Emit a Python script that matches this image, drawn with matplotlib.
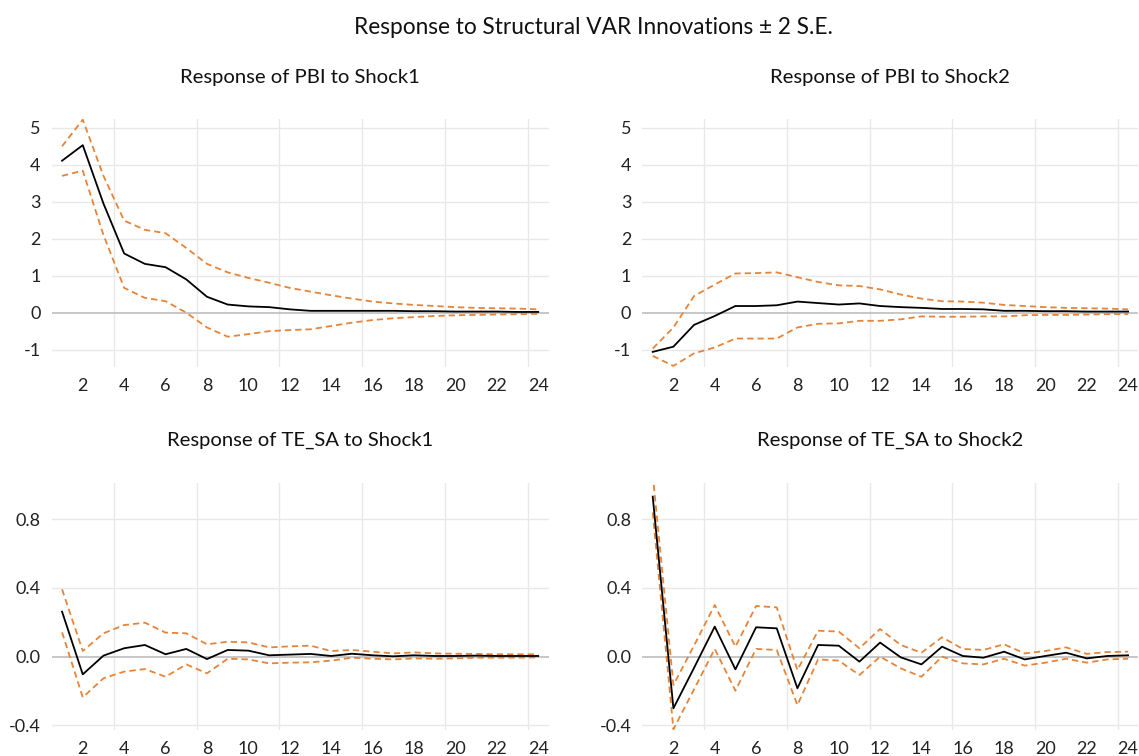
import numpy as np
import matplotlib
matplotlib.use("Agg")
from matplotlib import pyplot as plt
from matplotlib.ticker import FixedLocator, FormatStrFormatter

plt.rcParams['font.family'] = ['Lato', 'DejaVu Sans']
plt.rcParams['axes.unicode_minus'] = False

periods = np.arange(1, 25)

# Response of PBI to Shock1
pbi_s1 = [4.11, 4.53, 2.95, 1.60, 1.32, 1.23, 0.90, 0.43, 0.22, 0.17, 0.15, 0.09,
          0.05, 0.05, 0.05, 0.05, 0.05, 0.04, 0.04, 0.03, 0.03, 0.03, 0.02, 0.02]
pbi_s1_hi = [4.50, 5.22, 3.70, 2.49, 2.24, 2.15, 1.75, 1.32, 1.09, 0.94, 0.81, 0.67,
             0.57, 0.47, 0.38, 0.30, 0.25, 0.21, 0.18, 0.15, 0.13, 0.12, 0.11, 0.09]
pbi_s1_lo = [3.70, 3.84, 2.10, 0.67, 0.40, 0.31, 0.00, -0.40, -0.65, -0.58, -0.50, -0.47,
             -0.45, -0.36, -0.27, -0.20, -0.15, -0.12, -0.09, -0.07, -0.06, -0.05, -0.04, -0.03]

# Response of PBI to Shock2
pbi_s2 = [-1.06, -0.92, -0.33, -0.09, 0.18, 0.18, 0.20, 0.30, 0.26, 0.22, 0.25, 0.18,
          0.15, 0.13, 0.10, 0.10, 0.09, 0.05, 0.05, 0.04, 0.04, 0.03, 0.03, 0.03]
pbi_s2_hi = [-0.97, -0.40, 0.45, 0.76, 1.06, 1.07, 1.09, 0.96, 0.83, 0.74, 0.72, 0.63,
             0.49, 0.38, 0.31, 0.30, 0.27, 0.21, 0.18, 0.15, 0.13, 0.12, 0.11, 0.09]
pbi_s2_lo = [-1.17, -1.44, -1.10, -0.94, -0.70, -0.70, -0.70, -0.40, -0.30, -0.29, -0.22, -0.22,
             -0.18, -0.10, -0.11, -0.11, -0.10, -0.10, -0.07, -0.06, -0.06, -0.05, -0.04, -0.04]

# Response of TE_SA to Shock1
te_s1 = [0.262, -0.103, 0.006, 0.049, 0.068, 0.014, 0.045, -0.014, 0.039, 0.035, 0.008, 0.012,
         0.016, 0.004, 0.017, 0.008, 0.002, 0.008, 0.004, 0.004, 0.006, 0.004, 0.004, 0.004]
te_s1_hi = [0.392, 0.033, 0.136, 0.184, 0.198, 0.140, 0.136, 0.072, 0.087, 0.083, 0.054, 0.060,
            0.064, 0.033, 0.039, 0.029, 0.019, 0.025, 0.019, 0.017, 0.016, 0.014, 0.014, 0.014]
te_s1_lo = [0.142, -0.237, -0.126, -0.087, -0.072, -0.117, -0.045, -0.097, -0.012, -0.016, -0.039, -0.035,
            -0.033, -0.023, -0.006, -0.012, -0.016, -0.010, -0.012, -0.010, -0.006, -0.006, -0.006, -0.004]

# Response of TE_SA to Shock2
te_s2 = [0.932, -0.301, -0.065, 0.175, -0.074, 0.171, 0.165, -0.184, 0.068, 0.064, -0.029, 0.082,
         -0.004, -0.045, 0.058, 0.004, -0.006, 0.029, -0.016, 0.004, 0.023, -0.010, 0.004, 0.008]
te_s2_hi = [1.06, -0.165, 0.065, 0.301, 0.058, 0.295, 0.287, -0.078, 0.151, 0.146, 0.049, 0.161,
            0.068, 0.023, 0.113, 0.045, 0.039, 0.072, 0.019, 0.033, 0.054, 0.016, 0.027, 0.029]
te_s2_lo = [0.84, -0.423, -0.190, 0.045, -0.198, 0.045, 0.039, -0.282, -0.016, -0.023, -0.107, 0.000,
            -0.068, -0.117, 0.000, -0.039, -0.045, -0.012, -0.052, -0.035, -0.012, -0.035, -0.016, -0.012]

titles = ["Response of PBI to Shock1", "Response of PBI to Shock2",
          "Response of TE_SA to Shock1", "Response of TE_SA to Shock2"]
xtick_vals = list(range(2, 25, 2))
xgrid_vals = [3.5, 7.5, 11.5, 15.5, 19.5, 23.5]
yticks_pbi = [-1, 0, 1, 2, 3, 4, 5]
yticks_te = [-0.4, 0.0, 0.4, 0.8]

orange = '#E5843A'
grid_c = '#E8E8E8'
zero_c = '#BDBDBD'

fig = plt.figure(figsize=(11.39, 7.56), dpi=100)
boxes = [[0.0454, 0.515, 0.4362, 0.3272], [0.564, 0.515, 0.4355, 0.3272],
         [0.0454, 0.0344, 0.4362, 0.3271], [0.564, 0.0344, 0.4355, 0.3271]]
series = [(pbi_s1, pbi_s1_hi, pbi_s1_lo), (pbi_s2, pbi_s2_hi, pbi_s2_lo),
          (te_s1, te_s1_hi, te_s1_lo), (te_s2, te_s2_hi, te_s2_lo)]

for i, (box, (mid, hi, lo)) in enumerate(zip(boxes, series)):
    ax = fig.add_axes(box)
    yt = yticks_pbi if i < 2 else yticks_te
    for g in xgrid_vals:
        ax.axvline(g, color=grid_c, lw=1.0, zorder=0)
    for v in yt:
        if v != 0:
            ax.axhline(v, color=grid_c, lw=1.0, zorder=0)
    ax.axhline(0, color=zero_c, lw=1.2, zorder=1)
    ax.plot(periods, hi, color=orange, lw=1.3, ls=(0, (3.5, 2.2)), zorder=2)
    ax.plot(periods, lo, color=orange, lw=1.3, ls=(0, (3.5, 2.2)), zorder=2)
    ax.plot(periods, mid, color='black', lw=1.3, zorder=3)
    ax.set_xlim(0.5, 24.5)
    if i < 2:
        ax.set_ylim(-1.46, 5.23)
    else:
        ax.set_ylim(-0.427, 1.013)
        ax.yaxis.set_major_formatter(FormatStrFormatter('%.1f'))
    ax.xaxis.set_major_locator(FixedLocator(xtick_vals))
    ax.yaxis.set_major_locator(FixedLocator(yt))
    ax.tick_params(length=0, labelsize=13, colors='#222222', pad=8)
    for s in ax.spines.values():
        s.set_visible(False)
    cx = box[0] + box[2] / 2
    ty = 1 - 78 / 756 if i < 2 else 1 - 440 / 756
    fig.text(cx, ty, titles[i], ha='center', va='center', fontsize=14.6, color='#111111')

fig.text(593 / 1139, 1 - 28 / 756, "Response to Structural VAR Innovations \u00b1 2 S.E.",
         ha='center', va='center', fontsize=16.3, color='#111111')

fig.savefig("out.png", dpi=100)
